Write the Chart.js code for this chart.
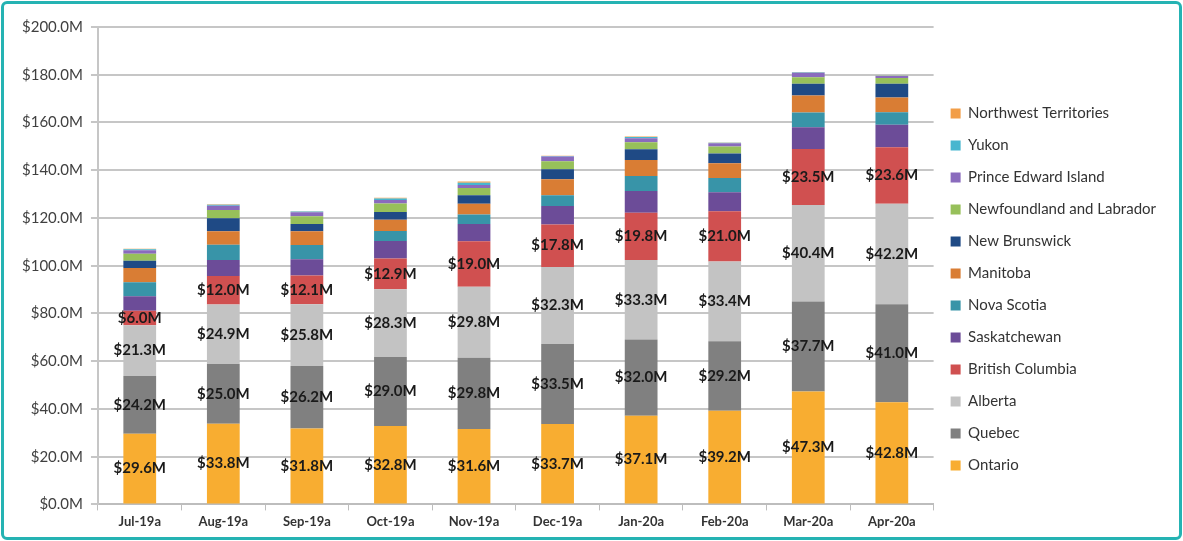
<!DOCTYPE html>
<html>
<head>
<meta charset="utf-8">
<script src="https://cdn.jsdelivr.net/npm/chart.js@4"></script>
<style>
  html, body { margin: 0; padding: 0; background: #fff; }
  #wrap { position: relative; width: 1183px; height: 541px; }
  #frame { position: absolute; left: 1px; top: 1px; right: 1px; bottom: 1px; border: 3px solid #25b3b3; border-radius: 6px; pointer-events: none; }
</style>
</head>
<body>
<div id="wrap">
  <canvas id="provinceChart"></canvas>
  <div id="frame"></div>
</div>
<script>
const months = ['Jul-19a', 'Aug-19a', 'Sep-19a', 'Oct-19a', 'Nov-19a', 'Dec-19a', 'Jan-20a', 'Feb-20a', 'Mar-20a', 'Apr-20a'];

// values in $ millions
const ontario = [29.6, 33.8, 31.8, 32.8, 31.6, 33.7, 37.1, 39.2, 47.3, 42.8];
const quebec = [24.2, 25.0, 26.2, 29.0, 29.8, 33.5, 32.0, 29.2, 37.7, 41.0];
const alberta = [21.3, 24.9, 25.8, 28.3, 29.8, 32.3, 33.3, 33.4, 40.4, 42.2];
const britishColumbia = [6.0, 12.0, 12.1, 12.9, 19.0, 17.8, 19.8, 21.0, 23.5, 23.6];
const saskatchewan = [6.1, 6.7, 6.8, 7.3, 7.3, 7.7, 9.1, 8.0, 9.1, 9.4];
const novaScotia = [5.9, 6.4, 6.0, 4.2, 3.9, 4.5, 6.3, 5.9, 6.2, 5.3];
const manitoba = [5.9, 5.6, 5.7, 4.8, 4.6, 6.7, 6.7, 6.2, 7.1, 6.2];
const newBrunswick = [3.1, 5.5, 3.1, 3.2, 3.5, 4.2, 4.5, 4.1, 4.9, 5.7];
const newfoundland = [2.9, 3.4, 3.2, 3.6, 3.1, 3.4, 2.9, 2.9, 2.8, 2.4];
const princeEdward = [1.5, 1.8, 1.7, 1.4, 1.2, 2.0, 1.7, 1.4, 1.8, 0.9];
const yukon = [0.4, 0.4, 0.3, 0.7, 1.0, 0.2, 0.5, 0.2, 0.2, 0.1];
const northwest = [0.2, 0.2, 0.1, 0.3, 0.5, 0.1, 0.2, 0.1, 0.1, 0.1];

const yTicks = [0, 20, 40, 60, 80, 100, 120, 140, 160, 180, 200];

const fmt = v => '$' + v.toFixed(1) + 'M';

// labels only on the four biggest provinces (first four datasets)
const segmentLabels = {
    id: 'segmentLabels',
    afterDatasetsDraw(chart) {
        const ctx = chart.ctx;
        ctx.save();
        ctx.font = 'bold 15px Lato';
        ctx.fillStyle = '#1a1a1a';
        ctx.textAlign = 'center';
        ctx.textBaseline = 'middle';
        for (let i = 0; i < 4; i++) {
            const meta = chart.getDatasetMeta(i);
            meta.data.forEach((bar, j) => {
                const v = chart.data.datasets[i].data[j];
                ctx.fillText(fmt(v), bar.x, (bar.y + bar.base) / 2);
            });
        }
        ctx.restore();
    }
};

const series = [
    { label: 'Ontario', data: ontario, color: '#f8ad31' },
    { label: 'Quebec', data: quebec, color: '#808080' },
    { label: 'Alberta', data: alberta, color: '#c3c3c3' },
    { label: 'British Columbia', data: britishColumbia, color: '#d05050' },
    { label: 'Saskatchewan', data: saskatchewan, color: '#6c4c98' },
    { label: 'Nova Scotia', data: novaScotia, color: '#3894a8' },
    { label: 'Manitoba', data: manitoba, color: '#d97d34' },
    { label: 'New Brunswick', data: newBrunswick, color: '#1f4a85' },
    { label: 'Newfoundland and Labrador', data: newfoundland, color: '#97c05a' },
    { label: 'Prince Edward Island', data: princeEdward, color: '#8a6bbd' },
    { label: 'Yukon', data: yukon, color: '#47b6cf' },
    { label: 'Northwest Territories', data: northwest, color: '#f29e48' },
];

const ctx = document.getElementById('provinceChart').getContext('2d');
new Chart(ctx, {
    type: 'bar',
    data: {
        labels: months,
        datasets: series.map(s => ({
            label: s.label,
            data: s.data,
            backgroundColor: s.color,
            borderWidth: 0,
            barPercentage: 0.8,
            categoryPercentage: 0.49,
        })),
    },
    options: {
        responsive: true,
        maintainAspectRatio: false,
        animation: false,
        layout: { padding: { top: 27, right: 17, bottom: 7, left: 14 } },
        plugins: {
            tooltip: { enabled: false },
            legend: {
                position: 'right',
                reverse: true,
                // empty title only pushes the column down a bit
                title: { display: true, text: ' ', font: { size: 1 }, padding: { top: 9, bottom: 8 } },
                labels: {
                    boxWidth: 10,
                    boxHeight: 10,
                    padding: 17,
                    color: '#333',
                    font: { family: 'Lato', size: 15 },
                },
            },
        },
        scales: {
            x: {
                stacked: true,
                grid: { display: true, drawOnChartArea: false, tickLength: 6, color: '#bdbdbd', lineWidth: 1 },
                border: { color: '#bdbdbd', width: 2 },
                ticks: { color: '#333', font: { family: 'Lato', size: 13, weight: 'bold' }, padding: 4 },
            },
            y: {
                stacked: true,
                min: 0,
                max: 200,
                afterBuildTicks: axis => { axis.ticks = yTicks.map(v => ({ value: v })); },
                grid: { color: '#c6c6c6', lineWidth: 2, tickLength: 7 },
                border: { color: '#c6c6c6', width: 2 },
                ticks: { color: '#404040', font: { family: 'Lato', size: 15 }, padding: 8, callback: v => fmt(v) },
            },
        },
    },
    plugins: [segmentLabels],
});
</script>
</body>
</html>
